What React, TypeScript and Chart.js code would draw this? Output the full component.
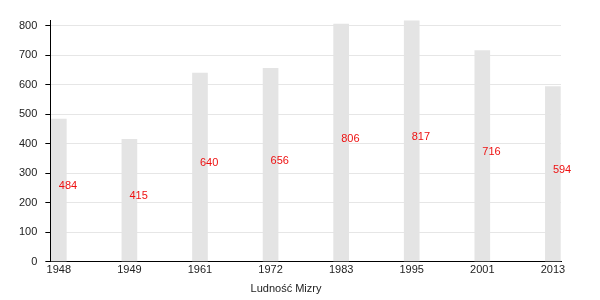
import React, { useEffect, useRef } from "react";
import { Chart, registerables } from "chart.js";

Chart.register(...registerables);

const years = ["1948", "1949", "1961", "1972", "1983", "1995", "2001", "2013"];
const population = [484, 415, 640, 656, 806, 817, 716, 594];
const axisTitle = "Ludność Mizry";

const FONT = "'Liberation Sans', Arial, sans-serif";

const valueLabels = {
  id: "valueLabels",
  afterDatasetsDraw(chart: any) {
    const ctx = chart.ctx;
    const meta = chart.getDatasetMeta(0);
    ctx.save();
    ctx.font = `11px ${FONT}`;
    ctx.fillStyle = "#ee1111";
    ctx.textAlign = "left";
    ctx.textBaseline = "middle";
    meta.data.forEach((bar: any, i: number) => {
      const y = (bar.y + bar.base) / 2 - 4;
      ctx.fillText(String(population[i]), bar.x, y);
    });
    ctx.restore();
  },
};

export default function App() {
  const ref = useRef<HTMLCanvasElement>(null);
  useEffect(() => {
    const chart = new Chart(ref.current!, {
      type: "bar",
      data: {
        datasets: [
          {
            data: population.map((v, i) => ({ x: i, y: v })),
            backgroundColor: "#e4e4e4",
            borderWidth: 0,
            barThickness: 15,
          },
        ],
      },
      options: {
        animation: false,
        responsive: false,
        layout: { padding: { left: 11, right: 39, top: 20, bottom: 4 } },
        plugins: {
          legend: { display: false },
          tooltip: { enabled: false },
          title: {
            display: true,
            text: axisTitle,
            position: "bottom",
            color: "#222",
            font: { family: FONT, size: 11, weight: "normal" },
            padding: { top: 4, bottom: 0 },
          },
        },
        scales: {
          x: {
            type: "linear",
            min: -0.12,
            max: 7.115,
            offset: false,
            grid: { display: false, drawTicks: false, tickLength: 0 },
            border: { display: true, color: "#000", width: 1 },
            ticks: {
              stepSize: 1,
              includeBounds: false,
              autoSkip: false,
              maxRotation: 0,
              color: "#222",
              padding: 2,
              font: { family: FONT, size: 11 },
              callback: (v: any) =>
                Number.isInteger(v) && years[v] !== undefined ? years[v] : "",
            },
          },
          y: {
            min: 0,
            max: 820,
            grid: { color: "#e6e6e6", tickColor: "#000", tickLength: 5 },
            border: { display: true, color: "#000", width: 1 },
            ticks: {
              stepSize: 100,
              includeBounds: false,
              color: "#222",
              padding: 8,
              font: { family: FONT, size: 11 },
            },
          },
        },
      },
      plugins: [valueLabels],
    });
    return () => chart.destroy();
  }, []);
  return (
    <div style={{ position: "fixed", left: 0, top: 0, width: 600, height: 300, background: "#fff" }}>
      <canvas ref={ref} width={600} height={300} style={{ width: 600, height: 300 }} />
    </div>
  );
}
